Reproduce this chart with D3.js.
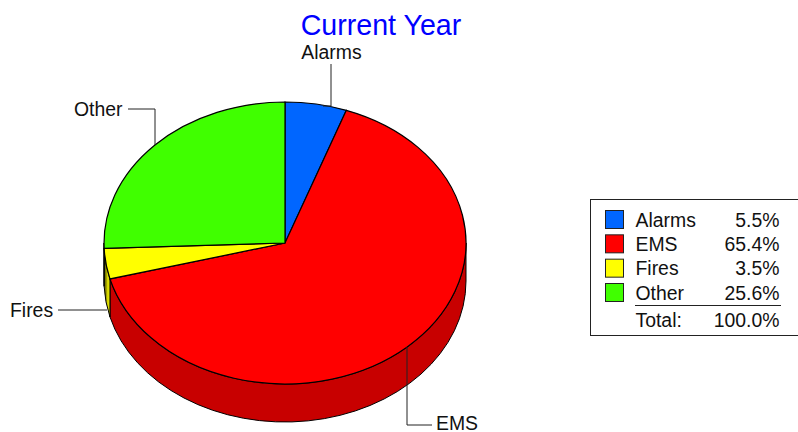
<!DOCTYPE html>
<html>
<head>
<meta charset="utf-8">
<script src="https://cdn.jsdelivr.net/npm/d3@7"></script>
<style>
  html, body { margin: 0; background: #fff; }
  svg { display: block; font-family: "Liberation Sans", Arial, sans-serif; }
  path.pie { vector-effect: non-scaling-stroke; }
</style>
</head>
<body>
<svg width="798" height="432"></svg>
<script>
const categories = ['Alarms', 'EMS', 'Fires', 'Other'];
const shares = [5.5, 65.4, 3.5, 25.6];
const shareLabels = ['5.5%', '65.4%', '3.5%', '25.6%'];
const totalLabel = '100.0%';
const topColors = ['#0066ff', '#ff0000', '#ffff00', '#40ff00'];
const wallColors = ['#0052cc', '#c80000', 'url(#firesWall)', '#33cc00'];

const cx = 285, cy = 243, rx = 181, ry = 141, depth = 38;
const labelSize = 19.4;

const svg = d3.select('svg');

// the small yellow wall goes dark toward the pie's left edge
let firesWall = svg.append('defs').append('linearGradient').attr('id', 'firesWall');
firesWall.append('stop').attr('offset', '0%').attr('stop-color', '#4d4d00');
firesWall.append('stop').attr('offset', '45%').attr('stop-color', '#a8a800');
firesWall.append('stop').attr('offset', '60%').attr('stop-color', '#dcdc00');

svg.append('text')
  .attr('x', 381).attr('y', 35)
  .attr('text-anchor', 'middle')
  .attr('font-size', 28.6)
  .attr('fill', '#0000ff')
  .text('Current Year');

let arcs = d3.pie().sort(null).value(d => d)(shares);
let arcGenerator = d3.arc().innerRadius(0).outerRadius(1);

// point on the top ellipse, angle clockwise from 12 o'clock
function ellipsePoint(angle, drop = 0) {
  return [cx + rx * Math.sin(angle), cy - ry * Math.cos(angle) + drop];
}

// side wall of a slice, only the part facing the viewer shows
function wallPath(a0, a1) {
  let from = Math.max(a0, Math.PI / 2);
  let to = Math.min(a1, Math.PI * 1.5);
  if (to <= from) return null;
  let p0 = ellipsePoint(from), p1 = ellipsePoint(to);
  let p2 = ellipsePoint(to, depth), p3 = ellipsePoint(from, depth);
  return `M${p0}A${rx},${ry} 0 0 1 ${p1}L${p2}A${rx},${ry} 0 0 0 ${p3}Z`;
}

arcs.forEach((d, idx) => {
  let wall = wallPath(d.startAngle, d.endAngle);
  if (!wall) return;
  svg.append('path')
    .attr('d', wall)
    .attr('fill', wallColors[idx])
    .attr('stroke', '#000')
    .attr('stroke-width', 1);
});

arcs.forEach((d, idx) => {
  svg.append('path')
    .attr('class', 'pie')
    .attr('d', arcGenerator(d))
    .attr('transform', `translate(${cx},${cy}) scale(${rx},${ry})`)
    .attr('fill', topColors[idx])
    .attr('stroke', '#000')
    .attr('stroke-width', 1.2);
});

// callouts
const calloutLabels = [
  { text: 'Alarms', x: 331.5, y: 59, anchor: 'middle', line: [[331, 64], [331, 106], [323, 106]] },
  { text: 'EMS', x: 436, y: 430, anchor: 'start', line: [[407, 347], [407, 425], [432, 425]] },
  { text: 'Fires', x: 10, y: 317, anchor: 'start', line: [[58, 310], [107, 310]] },
  { text: 'Other', x: 74, y: 116, anchor: 'start', line: [[128, 109], [155, 109], [155, 145]] }
];
calloutLabels.forEach(c => {
  svg.append('path')
    .attr('d', d3.line()(c.line))
    .attr('fill', 'none')
    .attr('stroke', '#222')
    .attr('stroke-width', 1);
  svg.append('text')
    .attr('x', c.x).attr('y', c.y)
    .attr('text-anchor', c.anchor)
    .attr('font-size', labelSize)
    .attr('fill', '#111')
    .text(c.text);
});

// legend box
svg.append('rect')
  .attr('x', 590.5).attr('y', 199.5)
  .attr('width', 220).attr('height', 136)
  .attr('fill', '#fff').attr('stroke', '#222');

let rowY = d3.scalePoint().domain(categories).range([219, 292]);

categories.forEach((name, idx) => {
  let y = rowY(name);
  svg.append('rect')
    .attr('x', 605.5).attr('y', y - 8.5)
    .attr('width', 18).attr('height', 18)
    .attr('fill', topColors[idx]).attr('stroke', '#222');
  svg.append('text')
    .attr('x', 635.5).attr('y', y + 7.5)
    .attr('font-size', labelSize).attr('fill', '#111')
    .text(name);
  svg.append('text')
    .attr('x', 779.5).attr('y', y + 7.5)
    .attr('text-anchor', 'end')
    .attr('font-size', labelSize).attr('fill', '#111')
    .text(shareLabels[idx]);
});

svg.append('line')
  .attr('x1', 635).attr('x2', 781)
  .attr('y1', 305.5).attr('y2', 305.5)
  .attr('stroke', '#222');
svg.append('text')
  .attr('x', 635.5).attr('y', 326.5)
  .attr('font-size', labelSize).attr('fill', '#111')
  .text('Total:');
svg.append('text')
  .attr('x', 779.5).attr('y', 326.5)
  .attr('text-anchor', 'end')
  .attr('font-size', labelSize).attr('fill', '#111')
  .text(totalLabel);
</script>
</body>
</html>
